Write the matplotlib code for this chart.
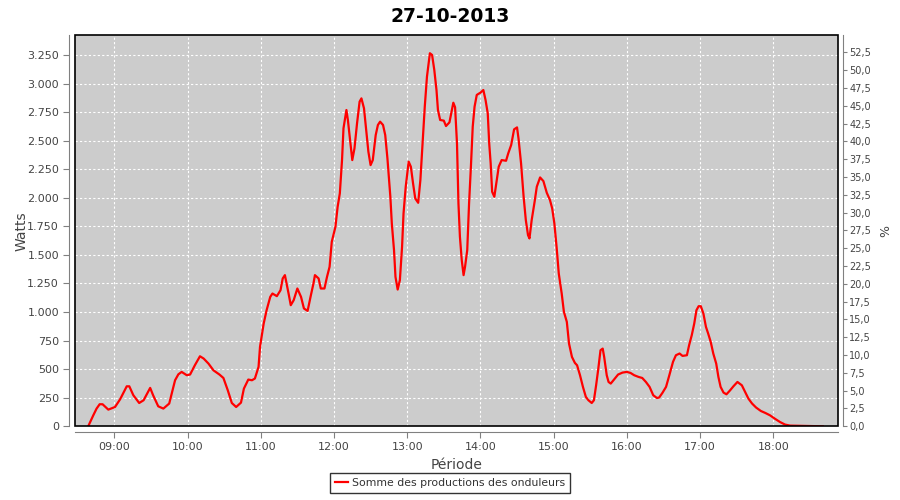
import matplotlib
matplotlib.use('Agg')
import matplotlib.pyplot as plt
from matplotlib.patches import Rectangle
from matplotlib.ticker import MultipleLocator, FuncFormatter
from matplotlib.lines import Line2D

# heures decimales / puissance en watts
heures = [8.644, 8.713, 8.758, 8.80, 8.84, 8.918, 9.01, 9.08, 9.17, 9.205, 9.26, 9.34, 9.40, 9.49,
          9.53, 9.60, 9.67, 9.75, 9.83, 9.875, 9.92, 9.99, 10.035, 10.10, 10.17, 10.22, 10.286,
          10.354, 10.436, 10.49, 10.55, 10.605, 10.664, 10.73, 10.77, 10.83, 10.88, 10.92, 10.97,
          10.99, 11.04, 11.08, 11.13, 11.16, 11.22, 11.27, 11.30, 11.33, 11.38, 11.41, 11.45,
          11.50, 11.55, 11.59, 11.64, 11.685, 11.72, 11.74, 11.79, 11.82, 11.87, 11.905, 11.94,
          11.97, 12.02, 12.05, 12.08, 12.11, 12.13, 12.17, 12.19, 12.22, 12.25, 12.28, 12.315,
          12.35, 12.375, 12.41, 12.44, 12.47, 12.50, 12.53, 12.57, 12.60, 12.63, 12.67, 12.70,
          12.73, 12.77, 12.79, 12.82, 12.84, 12.87, 12.90, 12.93, 12.95, 12.98, 13.02, 13.05,
          13.08, 13.11, 13.15, 13.18, 13.21, 13.24, 13.27, 13.31, 13.34, 13.37, 13.40, 13.42,
          13.45, 13.50, 13.53, 13.577, 13.61, 13.63, 13.654, 13.68, 13.70, 13.72, 13.745, 13.77,
          13.79, 13.82, 13.845, 13.87, 13.895, 13.92, 13.95, 14.0, 14.04, 14.07, 14.10, 14.12,
          14.14, 14.16, 14.19, 14.21, 14.25, 14.29, 14.35, 14.38, 14.42, 14.46, 14.50, 14.52,
          14.555, 14.59, 14.62, 14.65, 14.67, 14.70, 14.74, 14.77, 14.815, 14.86, 14.906, 14.95,
          14.98, 15.01, 15.04, 15.07, 15.11, 15.14, 15.18, 15.21, 15.25, 15.29, 15.32, 15.36,
          15.40, 15.44, 15.475, 15.52, 15.55, 15.58, 15.61, 15.64, 15.67, 15.69, 15.725, 15.75,
          15.78, 15.825, 15.88, 15.94, 16.0, 16.05, 16.10, 16.16, 16.21, 16.26, 16.31, 16.36,
          16.41, 16.44, 16.485, 16.535, 16.58, 16.63, 16.67, 16.72, 16.76, 16.82, 16.85, 16.886,
          16.92, 16.95, 16.98, 17.01, 17.045, 17.08, 17.11, 17.145, 17.18, 17.22, 17.25, 17.28,
          17.32, 17.36, 17.41, 17.455, 17.51, 17.57, 17.615, 17.66, 17.71, 17.765, 17.83, 17.89,
          17.955, 18.02, 18.09, 18.16, 18.23, 18.675]
watts = [0, 96, 155, 193, 193, 146, 169, 237, 350, 350, 272, 204, 228, 336,
         272, 175, 155, 199, 403, 455, 476, 447, 453, 534, 613, 593, 549,
         490, 453, 423, 315, 204, 169, 207, 330, 409, 403, 418, 520,
         695, 899, 1016, 1133, 1162, 1139, 1191, 1294, 1323, 1162, 1060, 1104,
         1206, 1133, 1031, 1010, 1148, 1250, 1323, 1294, 1206, 1206, 1308, 1396,
         1615, 1746, 1921, 2038, 2330, 2608, 2768, 2681, 2505, 2330, 2432, 2651,
         2841, 2870, 2783, 2593, 2403, 2286, 2330, 2549, 2637, 2666, 2637, 2549,
         2345, 2009, 1775, 1542, 1308, 1197, 1279, 1571, 1863, 2097, 2316, 2272,
         2126, 1994, 1956, 2155, 2476, 2797, 3060, 3265, 3250, 3119, 2943, 2768,
         2681, 2675, 2628, 2660, 2768, 2832, 2792, 2476, 1951, 1659, 1454, 1323,
         1396, 1542, 1951, 2272, 2622, 2797, 2900, 2920, 2943, 2856, 2739, 2476,
         2301, 2053, 2009, 2097, 2272, 2330, 2324, 2389, 2462, 2599, 2616, 2520,
         2301, 2009, 1805, 1673, 1644, 1805, 1965, 2097, 2178, 2146, 2044, 1980,
         1907, 1775, 1571, 1337, 1162, 1002, 914, 724, 607, 555, 534, 447,
         345, 257, 228, 204, 228, 359, 505, 666, 680, 607, 447, 388,
         374, 409, 453, 470, 476, 467, 447, 432, 423, 388, 345, 272,
         248, 251, 292, 345, 447, 564, 622, 637, 616, 622, 710, 797,
         899, 1016, 1051, 1051, 987, 870, 812, 739, 637, 549, 432, 345,
         295, 280, 315, 350, 388, 359, 301, 242, 199, 164, 134, 117,
         96, 67, 38, 15, 6, 0]

titre = "27-10-2013"
serie = "Somme des productions des onduleurs"

fig = plt.figure(figsize=(9, 5), dpi=100)
ax = fig.add_axes([0.0833, 0.1474, 0.8473, 0.782])
ax.set_facecolor('#cccccc')
ax.plot(heures, watts, color='#ff0000', linewidth=1.6, zorder=3)

ax.set_xlim(8.463, 18.877)
ax.set_ylim(0, 3422)
ax.xaxis.set_major_locator(MultipleLocator(1))
ax.xaxis.set_major_formatter(FuncFormatter(lambda v, p: f"{int(round(v)):02d}:00"))
ax.yaxis.set_major_locator(MultipleLocator(250))
ax.yaxis.set_major_formatter(FuncFormatter(lambda v, p: f"{int(v):,}".replace(',', '.')))
ax.grid(True, color='white', linestyle=(0, (2, 2)), linewidth=0.8)

gris = '#808080'
texte = '#444444'
for s in ['top', 'right']:
    ax.spines[s].set_visible(False)
for s in ['left', 'bottom']:
    ax.spines[s].set_position(('outward', 4))
    ax.spines[s].set_color(gris)
ax.tick_params(colors=gris, labelcolor=texte, labelsize=8, length=4, direction='out')
ax.add_patch(Rectangle((0, 0), 1, 1, transform=ax.transAxes, fill=False,
                       edgecolor='black', linewidth=1.2, clip_on=False, zorder=5))

ax2 = ax.twinx()
ax2.set_ylim(0, 54.9)
ax2.yaxis.set_major_locator(MultipleLocator(2.5))
ax2.yaxis.set_major_formatter(FuncFormatter(lambda v, p: f"{v:.1f}".replace('.', ',')))
for s in ['top', 'left', 'bottom']:
    ax2.spines[s].set_visible(False)
ax2.spines['right'].set_position(('outward', 4))
ax2.spines['right'].set_color(gris)
ax2.tick_params(colors=gris, labelcolor=texte, labelsize=7, length=3, pad=1.5,
                direction='out')

ax.set_ylabel("Watts", fontsize=10, color=texte, labelpad=-1)
ax2.set_ylabel("%", fontsize=9, color=texte, labelpad=6)
ax.set_xlabel("Période", fontsize=10, color=texte, labelpad=4)
fig.suptitle(titre, fontsize=13.5, fontweight='bold', y=0.985)

leg = fig.legend([Line2D([], [], color='#ff0000', linewidth=1.6)], [serie],
                 loc='lower center', bbox_to_anchor=(0.5, 0.003), fontsize=7.8,
                 frameon=True, fancybox=False, edgecolor='black',
                 handlelength=1.2, handletextpad=0.3, borderpad=0.45)
leg.get_frame().set_linewidth(1)
for t in leg.get_texts():
    t.set_color('#333333')

plt.savefig("out.png", dpi=100)
